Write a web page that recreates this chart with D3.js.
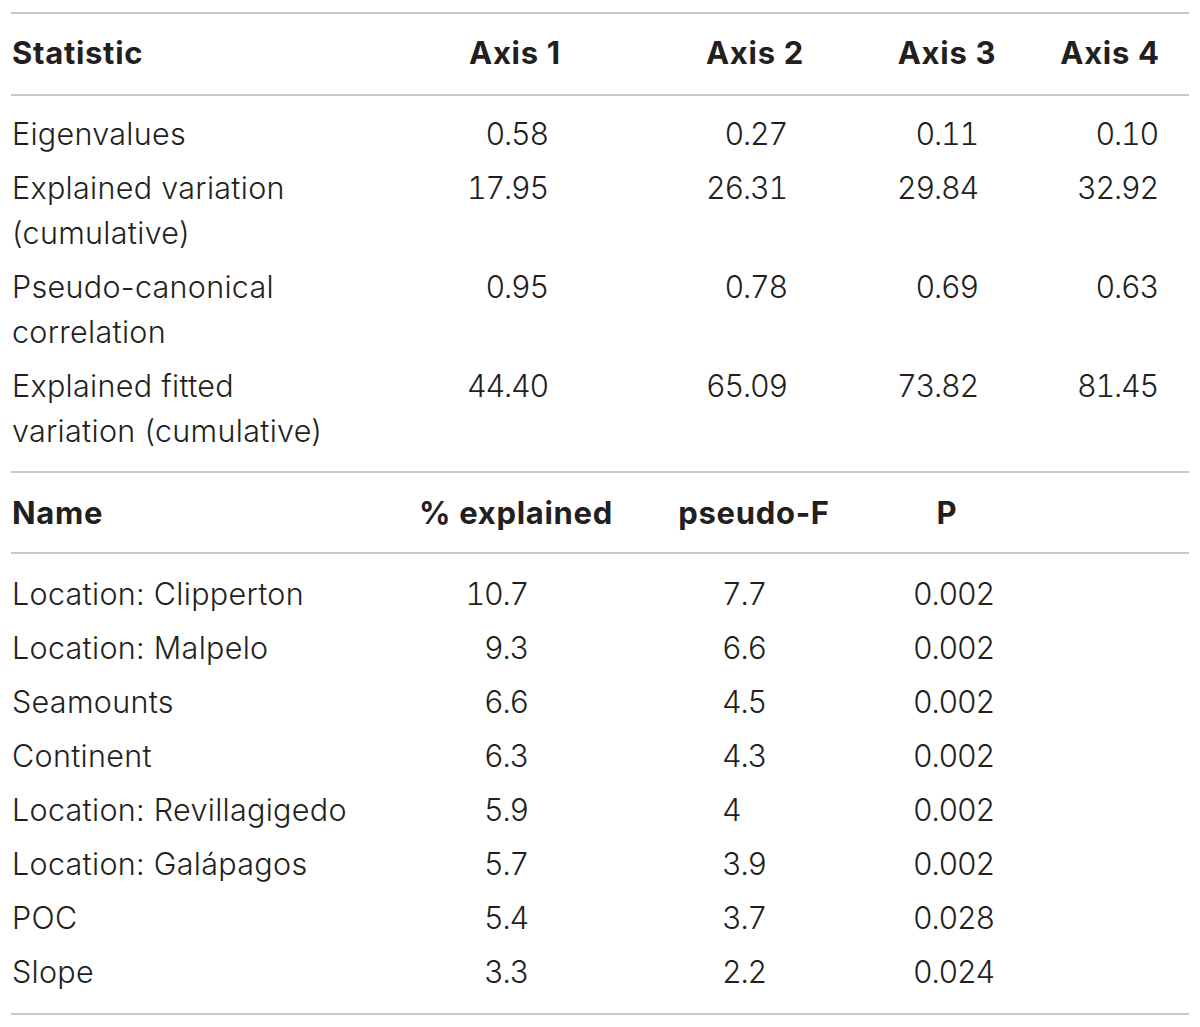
<!DOCTYPE html>
<html>
<head>
<meta charset="utf-8">
<script src="https://cdn.jsdelivr.net/npm/d3@7"></script>
<style>
  body { margin: 0; background: #fff; }
  svg { display: block; }
  .cell { font-family: Inter, Roboto, "Liberation Sans", sans-serif; font-weight: 300; font-size: 30.5px; letter-spacing: 0.3px; fill: #231f20; }
  .num { font-variant-numeric: tabular-nums; font-feature-settings: "tnum"; letter-spacing: -1.2px; }
  .head { font-family: Inter, "Liberation Sans", Arial, sans-serif; font-weight: bold; font-size: 31px; letter-spacing: 0.7px; fill: #231f20; }
  .rule { stroke: #c8c8c8; stroke-width: 2; }
</style>
</head>
<body>
<svg id="table"></svg>
<script>
// --- top block: ordination statistics ---
const statHeaders = ["Statistic", "Axis 1", "Axis 2", "Axis 3", "Axis 4"]
const statLabels = [
    ["Eigenvalues"],
    ["Explained variation", "(cumulative)"],
    ["Pseudo-canonical", "correlation"],
    ["Explained fitted", "variation (cumulative)"]
]
const axis1 = ["0.58", "17.95", "0.95", "44.40"]
const axis2 = ["0.27", "26.31", "0.78", "65.09"]
const axis3 = ["0.11", "29.84", "0.69", "73.82"]
const axis4 = ["0.10", "32.92", "0.63", "81.45"]

// --- bottom block: explanatory variables ---
const varHeaders = ["Name", "% explained", "pseudo-F", "P"]
const varNames = ["Location: Clipperton", "Location: Malpelo", "Seamounts", "Continent",
    "Location: Revillagigedo", "Location: Galápagos", "POC", "Slope"]
const pctExplained = ["10.7", "9.3", "6.6", "6.3", "5.9", "5.7", "5.4", "3.3"]
const pseudoF = ["7.7", "6.6", "4.5", "4.3", "4", "3.9", "3.7", "2.2"]
const pValues = ["0.002", "0.002", "0.002", "0.002", "0.002", "0.002", "0.028", "0.024"]

const width = 1200, height = 1027;
const svg = d3.select("#table").attr("width", width).attr("height", height);

const left = 11, right = 1189;
const lineH = 45, rowPad = 9, base = 11;

// column anchors
const statHeadX = d3.scaleOrdinal().domain(statHeaders).range([12, 515, 755, 947, 1110]);
const statValX = d3.scaleOrdinal().domain(["Axis 1", "Axis 2", "Axis 3", "Axis 4"]).range([548, 787, 978, 1158]);

function rule(y) {
    svg.append("line").attr("class", "rule")
        .attr("x1", left).attr("x2", right).attr("y1", y).attr("y2", y);
}

// top block
rule(13);
svg.append("g").selectAll("text")
    .data(statHeaders)
    .enter()
    .append("text")
    .attr("class", "head")
    .attr("x", d => statHeadX(d))
    .attr("y", 53 + base)
    .attr("text-anchor", (d, i) => i == 0 ? "start" : "middle")
    .text(d => d);
rule(95);

// cumulative row positions (rows have 1 or 2 lines)
let y0 = 134;
const statRowY = statLabels.map(lines => {
    const y = y0;
    y0 += lines.length * lineH + rowPad;
    return y;
});

const statRows = svg.append("g").selectAll(".stat-row")
    .data(statLabels)
    .enter()
    .append("g")
    .attr("class", "stat-row")
    .attr("transform", (d, i) => `translate(0,${statRowY[i] + base})`);

statRows.selectAll(".lbl")
    .data(d => d)
    .enter()
    .append("text")
    .attr("class", "cell lbl")
    .attr("x", 12)
    .attr("y", (d, i) => i * lineH)
    .text(d => d);

const axisCols = [axis1, axis2, axis3, axis4];
statRows.each(function (d, r) {
    d3.select(this).selectAll(".val")
        .data(axisCols.map((col, c) => ({ axis: statHeaders[c + 1], v: col[r] })))
        .enter()
        .append("text")
        .attr("class", "cell num val")
        .attr("x", v => statValX(v.axis))
        .attr("y", 0)
        .attr("text-anchor", "end")
        .text(v => v.v);
});
rule(472);

// bottom block
const varHeadX = d3.scaleOrdinal().domain(varHeaders).range([12, 516, 754, 947]);
svg.append("g").selectAll("text")
    .data(varHeaders)
    .enter()
    .append("text")
    .attr("class", "head")
    .attr("x", d => varHeadX(d))
    .attr("y", 513 + base)
    .attr("text-anchor", (d, i) => i == 0 ? "start" : "middle")
    .text(d => d);
rule(553);

const yVar = d3.scalePoint().domain(varNames).range([594, 972]);

const varRows = svg.append("g").selectAll(".var-row")
    .data(varNames)
    .enter()
    .append("g")
    .attr("class", "var-row")
    .attr("transform", d => `translate(0,${yVar(d) + base})`);

varRows.append("text").attr("class", "cell").attr("x", 12).text(d => d);
varRows.append("text").attr("class", "cell num").attr("x", 528).attr("text-anchor", "end")
    .text((d, i) => pctExplained[i]);
varRows.append("text").attr("class", "cell num").attr("x", 722)
    .text((d, i) => pseudoF[i]);
varRows.append("text").attr("class", "cell num").attr("x", 913)
    .text((d, i) => pValues[i]);
rule(1014);
</script>
</body>
</html>
